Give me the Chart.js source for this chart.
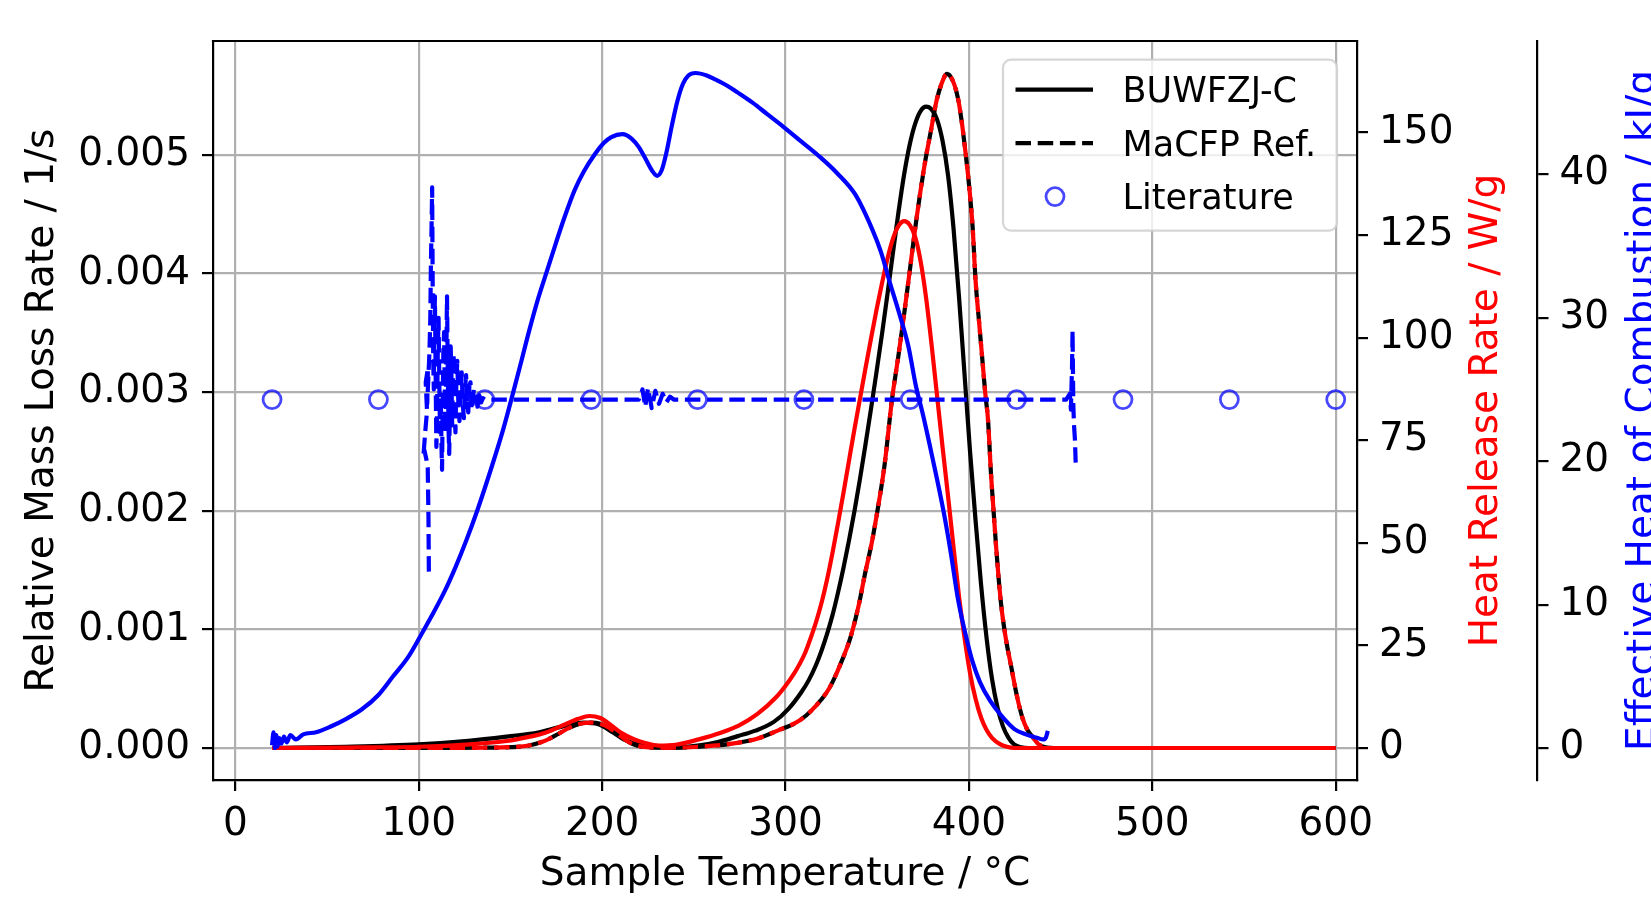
<!DOCTYPE html>
<html>
<head>
<meta charset="utf-8">
<script src="https://cdn.jsdelivr.net/npm/chart.js@4"></script>
<style>
  html, body { margin: 0; padding: 0; background: #fff; }
</style>
</head>
<body>
<canvas id="chart" width="1651" height="900"></canvas>
<script>
// ---- data ----
// BUWFZJ-C, relative mass loss rate (1/s)
const bwTemp = [20, 60, 100, 127, 150, 165, 178, 190, 198, 206, 212, 217, 222, 228, 240, 252, 263, 274, 283.6, 293.6,
  301.6, 308.6, 312.6, 316.6, 319.6, 322.6, 325.6, 328.6, 331.6, 334.6, 337.6, 340.6, 343.6, 346.6, 349.6, 352.6, 355.6, 358.6, 361.6, 364.6,
  367.6, 370.6, 373.6, 376.6, 379.6, 382.6, 385.6, 388.6, 391.6, 394.6, 397.6, 400.6, 403.6, 406.6, 409.6, 412.6, 415.6, 418.6, 421.6, 424.6,
  428.6, 432.6, 600];
const bwMlr = [0, 0.00001, 0.00003, 0.00006, 0.0001, 0.00013, 0.00018, 0.000214, 0.0002, 0.00013, 0.00007, 0.00004, 0.00002, 0.00001, 0.000005, 0.00002, 0.00005, 0.0001, 0.000146, 0.00022,
  0.00033, 0.00047, 0.00057, 0.0007, 0.00082, 0.00096, 0.00112, 0.00131, 0.00152, 0.00175, 0.002, 0.00227, 0.00256, 0.00286, 0.00317, 0.00349, 0.00383, 0.00418, 0.00452, 0.00483,
  0.00508, 0.00526, 0.00537, 0.005408, 0.005385, 0.0053, 0.00512, 0.00483, 0.00438, 0.0038, 0.00315, 0.0025, 0.00192, 0.00138, 0.00093, 0.00058, 0.00034, 0.00018, 0.000085, 0.00003,
  0.000005, 0, 0];

// MaCFP reference, mass loss rate (1/s) and heat release rate (W/g)
const refTemp = [20, 60, 100, 130, 150, 160, 169, 176, 182, 188, 194, 199, 204, 208, 211, 214, 217, 221, 226, 235,
  252, 270, 284, 296, 308, 316, 324, 330, 335.5, 340, 343.3, 347, 350.1, 354, 358, 361.5, 364.7, 367.5, 370.5, 373.5,
  376.3, 379.5, 382.2, 385, 388, 391, 393.9, 395.8, 397.8, 399.3, 400.7, 402, 403.6, 405.5, 407.5, 409, 410.4, 412, 413.4, 415,
  417.3, 420, 423.1, 426, 429, 432, 434.7, 438, 442, 446, 450];
const refMlr = [0, 0, 0, 0.000002, 0.000007, 0.000021, 0.000062, 0.000118, 0.000169, 0.000204, 0.000214, 0.000204, 0.000169, 0.000125, 0.00009, 0.000055, 0.000031, 0.000014, 0.000005, 0.000002,
  0.00001, 0.000035, 0.000076, 0.000149, 0.000235, 0.000346, 0.000508, 0.000709, 0.000937, 0.001211, 0.001467, 0.00173, 0.001999, 0.002387, 0.002933, 0.003303, 0.003663, 0.003995, 0.004358, 0.004687,
  0.00496, 0.005223, 0.005448, 0.005597, 0.005683, 0.005631, 0.005486, 0.00531, 0.005064, 0.00486, 0.004642, 0.004393, 0.003943, 0.003597, 0.003241, 0.002975, 0.002767, 0.002318, 0.002006, 0.00166,
  0.001245, 0.000934, 0.000681, 0.00045, 0.000263, 0.000149, 0.000093, 0.000031, 0.000005, 0, 0];
const refHrr = [0, 0, 0, 0.05, 0.2, 0.6, 1.8, 3.4, 4.9, 5.9, 6.2, 5.9, 4.9, 3.6, 2.6, 1.6, 0.9, 0.4, 0.15, 0.05,
  0.3, 1.0, 2.2, 4.3, 6.8, 10, 14.7, 20.5, 27.1, 35, 42.4, 50, 57.8, 69, 84.8, 95.5, 105.9, 115.5, 126, 135.5,
  143.4, 151, 157.5, 161.8, 164.3, 162.8, 158.6, 153.5, 146.4, 140.5, 134.2, 127, 114, 104, 93.7, 86, 80, 67, 58, 48,
  36, 27, 19.7, 13, 7.6, 4.3, 2.7, 0.9, 0.15, 0, 0];

// BUWFZJ-C, heat release rate (W/g)
const hrrTemp = [20, 60, 100, 128, 148, 160, 169, 180, 187, 193, 199, 205, 210.4, 217, 223, 231, 240, 252.7, 264.7, 274.7,
  284.7, 294.7, 299.7, 304.7, 307.7, 310.7, 313.7, 316.7, 319.7, 322.7, 325.7, 328.7, 331.7, 334.7, 337.7, 340.7, 343.7, 346.7, 349.7, 352.7,
  355.7, 358.7, 361.7, 364.7, 367.7, 370.7, 373.7, 376.7, 379.7, 382.7, 385.7, 388.7, 391.7, 394.7, 397.7, 400.7, 403.7, 406.7, 409.7, 412.7,
  416.7, 420.7, 424.7, 600];
const bwHrr = [0, 0.1, 0.3, 0.9, 1.7, 2.7, 3.7, 5.8, 7.1, 7.8, 7.3, 5.5, 3.7, 2.2, 1.3, 0.6, 0.8, 2.1, 3.7, 5.5,
  8.3, 12.3, 15, 18.2, 20.5, 23.2, 26.8, 30.8, 35.5, 41.2, 47.8, 55, 62.5, 70.3, 78, 85.4, 92.8, 100, 107, 113.5,
  119.5, 124.3, 127.3, 128.4, 127.5, 124.5, 118.5, 109.5, 98, 85.5, 73, 61, 48.5, 36.5, 26.5, 18, 11.8, 7.3, 4.3, 2.4,
  1.0, 0.3, 0, 0];

// BUWFZJ-C, effective heat of combustion (kJ/g)
const ehcTemp = [20, 20.8, 21.5, 22.3, 23, 24, 25, 26.5, 28, 30, 33, 37, 44, 52, 60, 69, 78, 86, 94, 100,
  107, 114, 120, 126, 132, 140, 146, 151.5, 156, 160, 165, 170, 175, 180, 185, 190, 196, 201, 205, 211,
  216, 220, 224, 227, 230, 232.5, 235, 238, 241, 244, 247, 251, 257, 262, 268, 274, 282, 290, 299, 308.5,
  318, 328, 338, 347.5, 352, 357, 362, 367, 371, 375, 380, 386, 390, 394, 398, 402, 406, 411.5, 418, 425,
  431, 437, 440.5, 442, 443];
const ehc = [0.2, 1.1, 0.0, 0.9, 0.1, 0.7, 0.3, 0.8, 0.4, 0.9, 0.6, 0.95, 1.1, 1.5, 2.0, 2.7, 3.7, 5.0, 6.3, 7.6,
  9.2, 10.9, 12.6, 14.5, 16.6, 19.7, 22.2, 24.8, 27.0, 29.0, 31.3, 33.3, 35.3, 37.2, 38.9, 40.2, 41.4, 42.2, 42.6, 42.8,
  42.5, 41.9, 41.0, 40.3, 39.9, 40.3, 41.5, 43.4, 45.1, 46.3, 46.9, 47.07, 46.9, 46.6, 46.2, 45.7, 45.0, 44.2, 43.3, 42.3,
  41.3, 40.1, 38.6, 36.1, 34.6, 32.4, 30.3, 28.0, 25.3, 23.2, 20.3, 16.6, 13.7, 10.4, 8.0, 6.0, 4.6, 3.3, 2.2, 1.3,
  0.95, 0.72, 0.6, 0.75, 1.2];

// MaCFP reference, effective heat of combustion (kJ/g), noisy at both ends
const refEhcTemp = [105.5, 105.3, 104.9, 104.2, 103.0, 102.5, 103.5, 104.5, 103.8, 105.0, 104.6, 105.8, 106.3, 106.6, 107.0,
  107.3, 107.6, 107.9, 108.2, 108.5, 108.8, 109.2, 109.6, 110.0, 110.4, 110.8, 111.2, 111.6, 112.0, 112.4,
  112.7, 113.0, 113.4, 113.8, 114.2, 114.6, 115.0, 115.4, 115.8, 116.2, 116.6, 117.0, 117.4, 117.8, 118.2,
  118.6, 119.0, 119.5, 120.0, 120.5, 121.0, 121.6, 122.2, 122.8, 123.4, 124.0, 124.6, 125.2, 125.8, 126.4,
  127.0, 127.6, 128.2, 128.8, 129.4, 130.0, 131.0, 132.0, 133.0, 134.0, 135.0, 136.0,
  160, 200, 220, 222, 223.5, 225, 227, 229, 231, 233, 235, 237, 239, 260, 300, 350, 400, 453,
  455, 455.6, 456.2, 456.5, 456.9, 457.3, 457.8, 458.2];
const refEhc = [12.3, 16.0, 19.5, 20.1, 20.8, 20.3, 22.0, 23.5, 25.5, 26.5, 24.0, 27.5, 30.0, 33.5, 36.5,
  39.1, 32.0, 27.0, 25.0, 29.5, 31.5, 26.0, 21.0, 23.5, 28.0, 30.0, 25.5, 22.0, 24.5, 21.0,
  19.4, 23.5, 27.5, 29.0, 25.0, 22.0, 27.0, 31.5, 26.5, 22.5, 20.5, 24.0, 28.0, 26.0, 22.5,
  25.5, 27.5, 23.5, 22.0, 25.5, 27.0, 24.0, 22.8, 25.2, 26.2, 24.0, 23.0, 25.0, 26.0, 23.8,
  23.4, 25.3, 25.5, 23.6, 24.0, 25.0, 24.9, 23.8, 24.6, 24.1, 24.4, 24.3,
  24.3, 24.3, 24.3, 25.0, 23.8, 25.1, 23.7, 24.9, 24.0, 24.7, 24.1, 24.5, 24.3, 24.3, 24.3, 24.3, 24.3, 24.3,
  24.7, 23.6, 26.5, 29.1, 24.0, 22.5, 21.5, 19.9];

// literature value
const litTemp = [20, 78, 136, 194, 252, 310, 368, 426, 484, 542, 600];
const litEhc = [24.3, 24.3, 24.3, 24.3, 24.3, 24.3, 24.3, 24.3, 24.3, 24.3, 24.3];

const legendLabels = ['BUWFZJ-C', 'MaCFP Ref.', 'Literature'];

// ---- styling ----
const FONT = 'DejaVu Sans';
const LW = 4.2;
const DASH = [15.5, 6.7];
const BLUE = '#0000ff', RED = '#ff0000', BLACK = '#000000';
const LIT = 'rgba(0,0,255,0.72)';

Chart.defaults.font.family = FONT;
Chart.defaults.font.size = 39;
Chart.defaults.color = BLACK;

const pts = (xs, ys) => xs.map((x, i) => ({ x, y: ys[i] }));

const line = (data, axis, color, dashed, order, extra) => Object.assign({
  data, yAxisID: axis, borderColor: color, backgroundColor: color,
  borderWidth: LW, pointRadius: 0, fill: false, order,
  borderDash: dashed ? DASH : [], borderJoinStyle: 'round',
  cubicInterpolationMode: 'monotone',
}, extra || {});

const tickStyle = {
  color: '#b0b0b0', lineWidth: 2.2, drawTicks: true, tickLength: 11,
  tickColor: BLACK, tickWidth: 2.2,
};

// top spine, right-hand axis titles and legend box
const decor = {
  id: 'decor',
  afterDraw(chart) {
    const { ctx, chartArea: a, scales } = chart;
    ctx.save();
    ctx.strokeStyle = BLACK;
    ctx.lineWidth = 2.2;
    ctx.lineCap = 'square';
    ctx.beginPath();
    ctx.moveTo(a.left, a.top);
    ctx.lineTo(a.right, a.top);
    ctx.stroke();

    // rotated titles of the two right axes
    const midY = (a.top + a.bottom) / 2;
    const rotTitle = (text, x, color) => {
      ctx.save();
      ctx.translate(x, midY);
      ctx.rotate(-Math.PI / 2);
      ctx.font = `39px "${FONT}"`;
      ctx.fillStyle = color;
      ctx.textAlign = 'center';
      ctx.textBaseline = 'alphabetic';
      ctx.fillText(text, 0, 0);
      ctx.restore();
    };
    rotTitle('Heat Release Rate / W/g', scales.y1.left + 140, RED);
    rotTitle('Effective Heat of Combustion / kJ/g', scales.y2.left + 116, BLUE);

    // legend
    const bw = 334, bh = 171;
    const bx = a.right - 20 - bw, by = a.top + 18.6;
    ctx.beginPath();
    ctx.roundRect(bx, by, bw, bh, 8);
    ctx.fillStyle = 'rgba(255,255,255,0.8)';
    ctx.fill();
    ctx.strokeStyle = 'rgba(204,204,204,0.8)';
    ctx.lineWidth = 2.2;
    ctx.lineCap = 'butt';
    ctx.stroke();

    ctx.font = `35px "${FONT}"`;
    ctx.textAlign = 'left';
    ctx.textBaseline = 'alphabetic';
    legendLabels.forEach((label, i) => {
      const cy = by + 30 + 53.5 * i;
      ctx.save();
      if (i < 2) {
        ctx.strokeStyle = BLACK;
        ctx.lineWidth = LW;
        ctx.setLineDash(i === 1 ? DASH : []);
        ctx.beginPath();
        ctx.moveTo(bx + 12.5, cy);
        ctx.lineTo(bx + 90, cy);
        ctx.stroke();
      } else {
        ctx.strokeStyle = LIT;
        ctx.lineWidth = 2.8;
        ctx.beginPath();
        ctx.arc(bx + 52, cy, 9, 0, Math.PI * 2);
        ctx.stroke();
      }
      ctx.restore();
      ctx.fillStyle = BLACK;
      ctx.fillText(label, bx + 119.5, cy + 12.7);
    });
    ctx.restore();
  }
};

new Chart(document.getElementById('chart'), {
  type: 'line',
  data: {
    datasets: [
      line(pts(bwTemp, bwMlr), 'y', BLACK, false, 7, { label: 'BUWFZJ-C MLR' }),
      line(pts(refTemp, refMlr), 'y', BLACK, true, 6, { label: 'MaCFP Ref. MLR', borderDashOffset: 11 }),
      line(pts(hrrTemp, bwHrr), 'y1', RED, false, 5, { label: 'BUWFZJ-C HRR' }),
      line(pts(refTemp, refHrr), 'y1', RED, true, 4, { label: 'MaCFP Ref. HRR' }),
      line(pts(ehcTemp, ehc), 'y2', BLUE, false, 3, { label: 'BUWFZJ-C EHC' }),
      line(pts(refEhcTemp, refEhc), 'y2', BLUE, true, 2, { label: 'MaCFP Ref. EHC', cubicInterpolationMode: 'default', tension: 0 }),
      {
        label: 'Literature', data: pts(litTemp, litEhc), yAxisID: 'y2', order: 1,
        showLine: false, pointStyle: 'circle', pointRadius: 9, pointBorderWidth: 2.8,
        pointBorderColor: LIT, pointBackgroundColor: 'rgba(0,0,0,0)',
      },
    ],
  },
  options: {
    responsive: false,
    animation: false,
    layout: { padding: { top: 41, left: 0, right: 0, bottom: 0 } },
    plugins: { legend: { display: false }, tooltip: { enabled: false } },
    scales: {
      x: {
        type: 'linear', position: 'bottom', min: -12.2, max: 611.6,
        ticks: { stepSize: 100, includeBounds: false, padding: 10, maxRotation: 0 },
        grid: tickStyle,
        border: { color: BLACK, width: 2.2 },
        title: { display: true, text: 'Sample Temperature / °C', padding: { top: 0, bottom: 2 } },
        afterFit: (s) => { s.height = 120; },
      },
      y: {
        type: 'linear', position: 'left', min: -0.00027, max: 0.005961,
        ticks: { stepSize: 0.001, includeBounds: false, padding: 12, callback: (v) => v.toFixed(3) },
        grid: tickStyle,
        border: { color: BLACK, width: 2.2 },
        title: { display: true, text: 'Relative Mass Loss Rate / 1/s', padding: { top: 19, bottom: 0 } },
        afterFit: (s) => { s.width = 213; },
      },
      y1: {
        type: 'linear', position: 'right', min: -7.8, max: 172.3,
        ticks: { stepSize: 25, includeBounds: false, padding: 11 },
        grid: Object.assign({}, tickStyle, { drawOnChartArea: false }),
        border: { color: BLACK, width: 2.2 },
        afterFit: (s) => { s.width = 180.5; },
      },
      y2: {
        type: 'linear', position: 'right', min: -2.23, max: 49.3,
        ticks: { stepSize: 10, includeBounds: false, padding: 11 },
        grid: Object.assign({}, tickStyle, { drawOnChartArea: false }),
        border: { color: BLACK, width: 2.2 },
        afterFit: (s) => { s.width = 113.5; },
      },
    },
  },
  plugins: [decor],
});
</script>
</body>
</html>
